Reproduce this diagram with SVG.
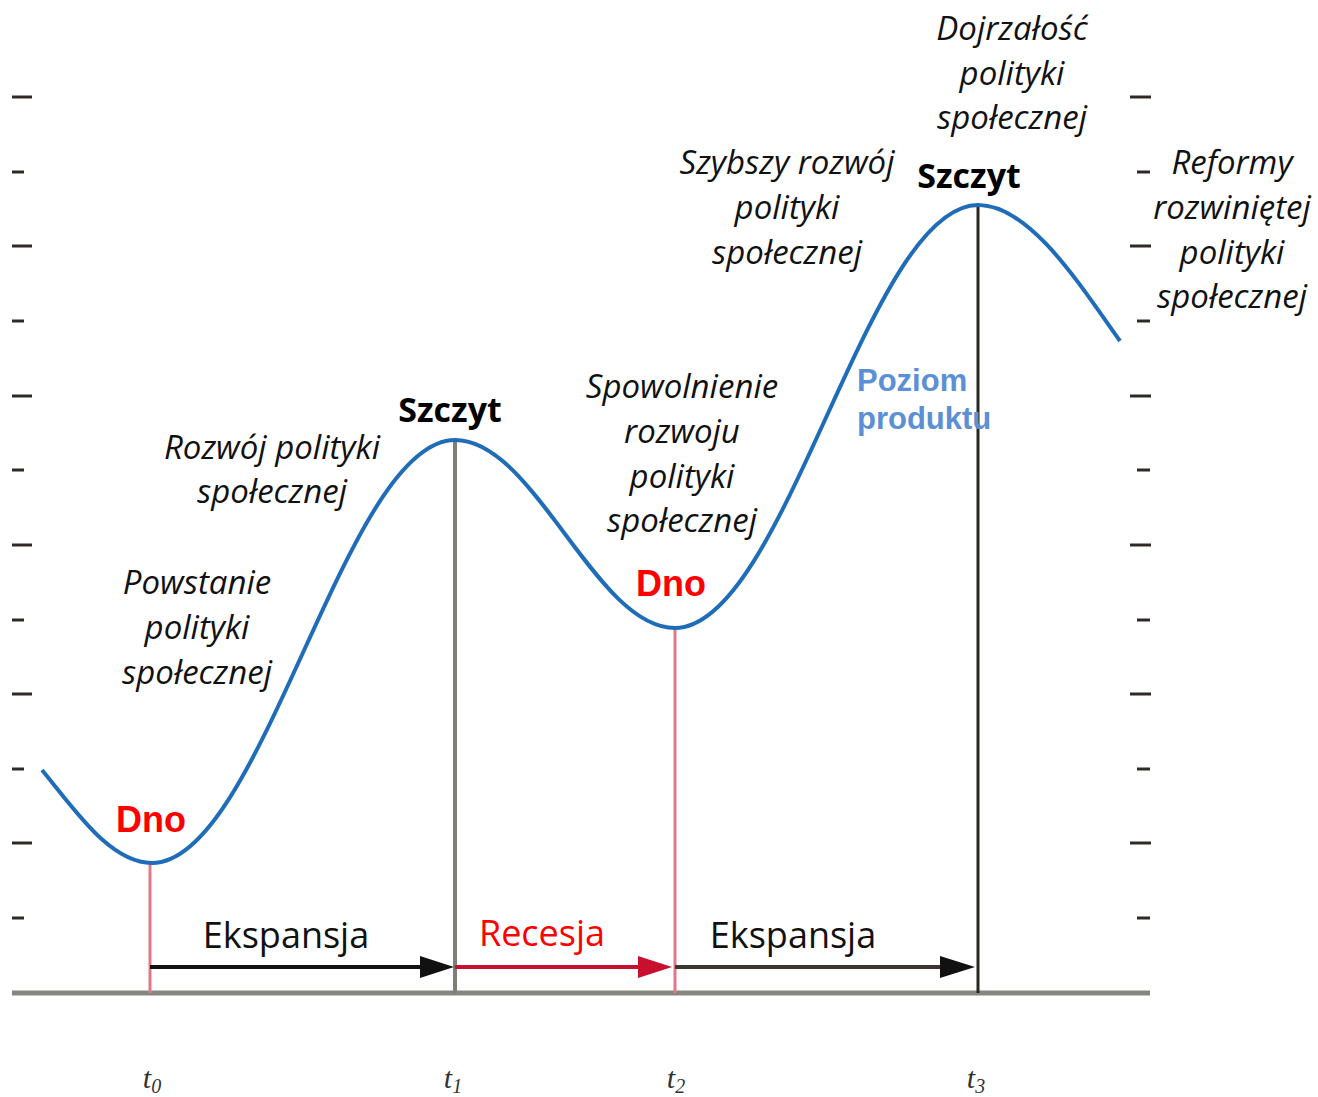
<svg xmlns="http://www.w3.org/2000/svg" width="1318" height="1097" viewBox="0 0 1318 1097">
<style>
.it{font-family:"Open Sans","Liberation Sans",sans-serif;font-style:italic;font-size:33px;fill:#111;text-anchor:middle}
.pk{font-family:"Open Sans","Liberation Sans",sans-serif;font-weight:bold;font-size:34px;fill:#000;text-anchor:middle}
.dno{font-family:"Liberation Sans",Arial,sans-serif;font-weight:bold;font-size:36px;fill:#ff0000;text-anchor:middle}
.ph{font-family:"Open Sans","Liberation Sans",sans-serif;font-size:36px;text-anchor:middle}
.tl{font-family:"Liberation Serif",serif;font-style:italic;font-size:30px;fill:#333;text-anchor:middle}
.tk{stroke:#2e2a26;stroke-width:3}
</style>
<g id="ticks">
<line class="tk" x1="12" y1="97" x2="32" y2="97"/><line class="tk" x1="12" y1="172" x2="24" y2="172"/>
<line class="tk" x1="12" y1="246" x2="32" y2="246"/><line class="tk" x1="12" y1="321" x2="24" y2="321"/>
<line class="tk" x1="12" y1="396" x2="32" y2="396"/><line class="tk" x1="12" y1="470" x2="24" y2="470"/>
<line class="tk" x1="12" y1="545" x2="32" y2="545"/><line class="tk" x1="12" y1="620" x2="24" y2="620"/>
<line class="tk" x1="12" y1="694" x2="32" y2="694"/><line class="tk" x1="12" y1="769" x2="24" y2="769"/>
<line class="tk" x1="12" y1="843" x2="32" y2="843"/><line class="tk" x1="12" y1="918" x2="24" y2="918"/>
<line class="tk" x1="1130" y1="97" x2="1151" y2="97"/><line class="tk" x1="1137" y1="172" x2="1150" y2="172"/>
<line class="tk" x1="1130" y1="246" x2="1151" y2="246"/><line class="tk" x1="1137" y1="321" x2="1150" y2="321"/>
<line class="tk" x1="1130" y1="396" x2="1151" y2="396"/><line class="tk" x1="1137" y1="470" x2="1150" y2="470"/>
<line class="tk" x1="1130" y1="545" x2="1151" y2="545"/><line class="tk" x1="1137" y1="620" x2="1150" y2="620"/>
<line class="tk" x1="1130" y1="694" x2="1151" y2="694"/><line class="tk" x1="1137" y1="769" x2="1150" y2="769"/>
<line class="tk" x1="1130" y1="843" x2="1151" y2="843"/><line class="tk" x1="1137" y1="918" x2="1150" y2="918"/>
</g>
<g id="axis">
<line x1="12" y1="993" x2="1150" y2="993" stroke="#86857f" stroke-width="5"/>
<line x1="150" y1="863" x2="150" y2="993" stroke="#e0788a" stroke-width="3"/>
<line x1="455" y1="440" x2="455" y2="993" stroke="#7f7f7a" stroke-width="4"/>
<line x1="675" y1="628" x2="675" y2="993" stroke="#e0788a" stroke-width="3"/>
<line x1="978" y1="205" x2="978" y2="993" stroke="#2a2620" stroke-width="3"/>
</g>
<g id="curve">
<path d="M42,770 C75,810 110,863 152,863 C262,863 345,440 455,440 C535,440 595,628 675,628 C785,628 868,205 978,205 C1030,205 1080,285 1120,341" fill="none" stroke="#1f6cb8" stroke-width="4"/>
</g>
<g id="connectors">
<line x1="150" y1="967" x2="420" y2="967" stroke="#111" stroke-width="4"/>
<path d="M420,956 L454,967 L420,978 z" fill="#111"/>
<line x1="455" y1="967" x2="640" y2="967" stroke="#c8102e" stroke-width="4"/>
<path d="M638,956 L672,967 L638,978 z" fill="#c8102e"/>
<line x1="675" y1="967" x2="942" y2="967" stroke="#3a3630" stroke-width="4"/>
<path d="M940,956 L975,967 L940,978 z" fill="#111"/>
</g>
<g id="labels">
<text class="it" x="1012" y="40">Dojrzałość</text>
<text class="it" x="1012" y="85">polityki</text>
<text class="it" x="1012" y="129">społecznej</text>
<text class="it" x="787" y="174">Szybszy rozwój</text>
<text class="it" x="787" y="219">polityki</text>
<text class="it" x="787" y="264">społecznej</text>
<text class="it" x="1232" y="174">Reformy</text>
<text class="it" x="1232" y="219">rozwiniętej</text>
<text class="it" x="1232" y="264">polityki</text>
<text class="it" x="1232" y="308">społecznej</text>
<text class="it" x="682" y="398">Spowolnienie</text>
<text class="it" x="682" y="443">rozwoju</text>
<text class="it" x="682" y="488">polityki</text>
<text class="it" x="682" y="532">społecznej</text>
<text class="it" x="272" y="459">Rozwój polityki</text>
<text class="it" x="272" y="503">społecznej</text>
<text class="it" x="197" y="594">Powstanie</text>
<text class="it" x="197" y="639">polityki</text>
<text class="it" x="197" y="684">społecznej</text>
<text class="pk" x="969" y="188">Szczyt</text>
<text class="pk" x="450" y="422">Szczyt</text>
<text class="dno" x="151" y="832">Dno</text>
<text class="dno" x="671" y="596">Dno</text>
<text x="857" y="391" font-family="Liberation Sans,Arial,sans-serif" font-weight="bold" font-size="31" fill="#5b8fd6">Poziom</text>
<text x="857" y="429" font-family="Liberation Sans,Arial,sans-serif" font-weight="bold" font-size="31" fill="#5b8fd6">produktu</text>
<text class="ph" x="286" y="948" fill="#111">Ekspansja</text>
<text class="ph" x="542" y="946" fill="#ff0000">Recesja</text>
<text class="ph" x="793" y="948" fill="#111">Ekspansja</text>
<text class="tl" x="152" y="1088">t<tspan font-size="20" dy="5">0</tspan></text>
<text class="tl" x="453" y="1088">t<tspan font-size="20" dy="5">1</tspan></text>
<text class="tl" x="676" y="1088">t<tspan font-size="20" dy="5">2</tspan></text>
<text class="tl" x="976" y="1088">t<tspan font-size="20" dy="5">3</tspan></text>
</g>
</svg>
